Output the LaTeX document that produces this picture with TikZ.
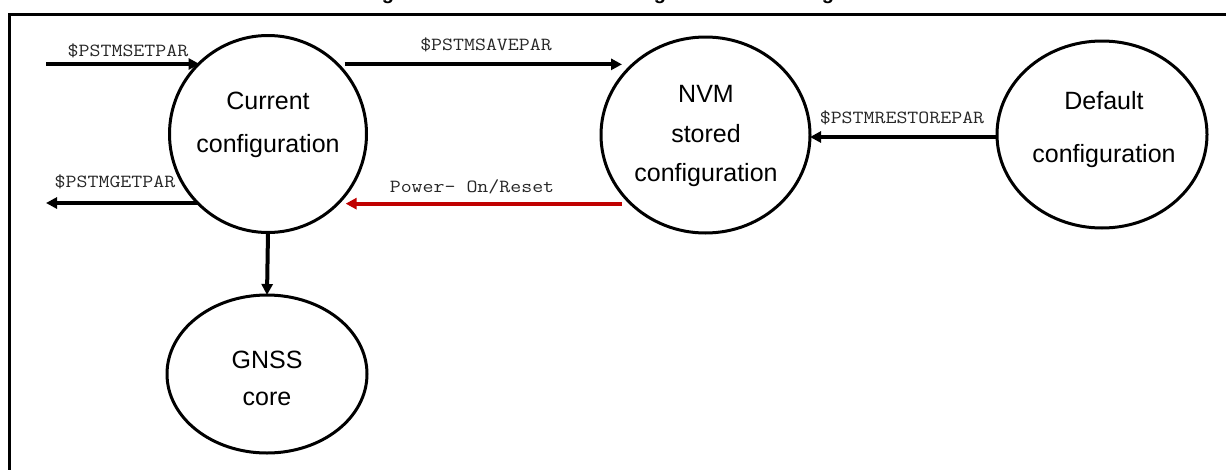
\documentclass[tikz,border=0pt]{standalone}
\usepackage{fontspec}
\setmainfont{Liberation Sans}
\usetikzlibrary{arrows.meta,shapes.geometric}
\definecolor{resetred}{HTML}{C00000}
\newcommand{\cmdtext}[1]{\scalebox{1.15}[1]{#1}}
\begin{document}
\begin{tikzpicture}[x=1pt,y=-1pt,
  state/.style={ellipse,draw,line width=3pt,inner sep=0pt,outer sep=0pt},
  stext/.style={align=center,inner sep=0pt,font=\fontsize{25}{#1}\selectfont},
  cmd/.style={inner sep=0pt,anchor=base,font=\ttfamily\fontsize{18.5}{20}\selectfont,text=black!85},
  flow/.style={line width=4pt,-{Triangle[length=11pt,width=11pt]}},
]
\useasboundingbox (0,0) rectangle (1226,469);
\clip (0,0) rectangle (1226,469);

% caption letters above the frame
\node[anchor=base,inner sep=0pt,font=\bfseries\fontsize{20}{20}\selectfont] (cap1) at (388,-0.5) {g};
\node[anchor=base,inner sep=0pt,font=\bfseries\fontsize{20}{20}\selectfont] (cap2) at (660,-0.5) {g};
\node[anchor=base,inner sep=0pt,font=\bfseries\fontsize{20}{20}\selectfont] (cap3) at (828,-0.5) {g};

% frame
\draw[line width=3pt] (9,490) -- (9,14) -- (1250,14);

% states
\node[state,minimum width=197pt,minimum height=197pt] (cur) at (268,134) {};
\node[state,minimum width=209pt,minimum height=196pt] (nvm) at (705.5,135) {};
\node[state,minimum width=210pt,minimum height=187pt] (def) at (1102,134.5) {};
\node[state,minimum width=200pt,minimum height=158pt] (gnss) at (267,374) {};

\node[stext=43] (curtxt) at (268,125) {Current\\configuration};
\node[stext=39.5] (nvmtxt) at (706,136) {NVM\\stored\\configuration};
\node[stext=53] (deftxt) at (1104,130) {Default\\configuration};
\node[stext=37] (gnsstxt) at (267,378) {GNSS\\core};

% transitions
\coordinate (setin) at (46,64);
\coordinate (getout) at (46,203);
\draw[flow] (setin) -- (setin -| cur.134);
\draw[flow] (getout -| cur.225) -- (getout);
\draw[flow] ([xshift=7pt]cur.45) -- ([xshift=21pt]cur.45 -| nvm.west);
\draw[flow,resetred] ([xshift=21pt]cur.315 -| nvm.west) -- ([xshift=8pt]cur.315);
\draw[flow] ([yshift=-2.5pt]def.west) -- ([yshift=-2.5pt]def.west -| nvm.east);
\draw[flow] (cur.south) -- (gnss.north);

% command labels
\node[cmd] (lset) at (128,56) {\cmdtext{\$PSTMSETPAR}};
\node[cmd] (lsave) at (486,50) {\cmdtext{\$PSTMSAVEPAR}};
\node[cmd] (lget) at (115,187) {\cmdtext{\$PSTMGETPAR}};
\node[cmd] (lreset) at (472,192) {\cmdtext{Power- On/Reset}};
\node[cmd] (lrestore) at (902,123) {\cmdtext{\$PSTMRESTOREPAR}};
\end{tikzpicture}
\end{document}
